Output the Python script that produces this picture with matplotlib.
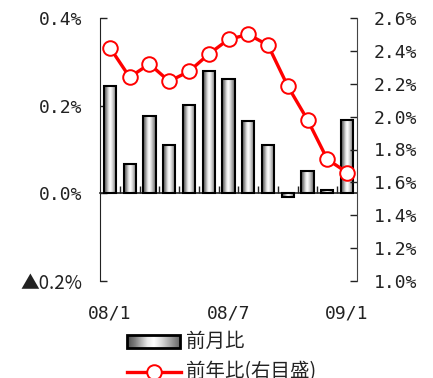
import numpy as np
import matplotlib
matplotlib.use("Agg")
import matplotlib.pyplot as plt
from matplotlib.colors import LinearSegmentedColormap
from matplotlib.lines import Line2D
from matplotlib.patches import Rectangle

plt.rcParams['font.family'] = ['Noto Sans CJK JP', 'DejaVu Sans']
NUM_FONT = ['DejaVu Sans Mono', 'Noto Sans CJK JP']

# Monthly data, Jan 2008 - Jan 2009
months = ["08/1", "08/2", "08/3", "08/4", "08/5", "08/6", "08/7",
          "08/8", "08/9", "08/10", "08/11", "08/12", "09/1"]
mom = [0.244, 0.068, 0.177, 0.110, 0.201, 0.279, 0.261,
       0.164, 0.110, -0.008, 0.051, 0.008, 0.168]          # 前月比 (%)
yoy = [2.42, 2.24, 2.32, 2.215, 2.275, 2.38, 2.47,
       2.50, 2.435, 2.185, 1.98, 1.74, 1.66]               # 前年比 (%)
shown_months = ["08/1", "08/7", "09/1"]
left_ticks = [-0.2, 0.0, 0.2, 0.4]
left_labels = ["▲0.2%", "0.0%", "0.2%", "0.4%"]
right_ticks = [1.0, 1.2, 1.4, 1.6, 1.8, 2.0, 2.2, 2.4, 2.6]
right_labels = ["1.0%", "1.2%", "1.4%", "1.6%", "1.8%", "2.0%", "2.2%", "2.4%", "2.6%"]
legend_labels = ["前月比", "前年比(右目盛)"]

W, H = 433, 378
fig = plt.figure(figsize=(W / 100, H / 100), dpi=100)
ax = fig.add_axes([100 / W, 1 - 281 / H, 257 / W, 263 / H])

# cylinder-like shading across each bar
shade = LinearSegmentedColormap.from_list(
    "cyl", [(0.0, (0.30,) * 3), (0.15, (0.50,) * 3), (0.38, (0.92,) * 3),
            (0.50, (1.0,) * 3), (0.65, (0.85,) * 3), (0.85, (0.58,) * 3),
            (1.0, (0.38,) * 3)])
grad = np.linspace(0, 1, 256).reshape(1, -1)

x = np.arange(len(months))
bars = ax.bar(x, mom, width=0.62, facecolor="none", edgecolor="black",
              linewidth=1.5, zorder=3)
for b in bars:
    x0, w = b.get_x(), b.get_width()
    y0, h = b.get_y(), b.get_height()
    ax.imshow(grad, cmap=shade, aspect="auto", zorder=2,
              extent=(x0, x0 + w, min(y0, y0 + h), max(y0, y0 + h)),
              interpolation="bilinear")

ax.set_xlim(-0.5, len(months) - 0.5)
ax.set_ylim(-0.2, 0.4)

# baseline at zero with small separators between months
ax.spines["bottom"].set_position(("data", 0))
ax.spines["bottom"].set_color("#222222")
ax.spines["bottom"].set_linewidth(1.2)
ax.spines["top"].set_visible(False)
ax.spines["right"].set_visible(False)
ax.spines["left"].set_color("#222222")
ax.set_xticks(x)
ax.tick_params(axis="x", which="major", length=0, labelbottom=False)
ax.set_xticks(x[:-1] + 0.5, minor=True)
ax.tick_params(axis="x", which="minor", direction="in", length=5,
               width=1.0, color="#222222")

ax.set_yticks(left_ticks)
ax.set_yticklabels(left_labels, family=NUM_FONT)
ax.tick_params(axis="y", direction="in", length=5, width=1.0, pad=13,
               labelsize=13, colors="#222222")
# the negative label carries a full-width triangle
for lbl in ax.get_yticklabels():
    if lbl.get_text().startswith("▲"):
        lbl.set_family(['Noto Sans CJK JP', 'DejaVu Sans'])
        lbl.set_fontsize(13.5)

# month labels along the bottom of the plot
sec = ax.secondary_xaxis("bottom")
sec.set_xticks([months.index(m) for m in shown_months])
sec.set_xticklabels(shown_months, family=NUM_FONT)
sec.tick_params(length=0, pad=17, labelsize=13, colors="#222222")
sec.spines["bottom"].set_visible(False)

# year-on-year line on the right scale
ax2 = ax.twinx()
ax2.set_ylim(1.0, 2.6)
ax2.plot(x, yoy, color="#ff0000", linewidth=2.4, marker="o",
         markersize=10.5, markerfacecolor="white", markeredgecolor="#ff0000",
         markeredgewidth=1.4, zorder=5)
for s in ("top", "left", "bottom"):
    ax2.spines[s].set_visible(False)
ax2.spines["right"].set_color("#444444")
ax2.set_yticks(right_ticks)
ax2.set_yticklabels(right_labels, family=NUM_FONT)
ax2.tick_params(axis="y", direction="in", length=5, width=1.0, pad=12,
                labelsize=13, colors="#222222")

# legend below the chart
sw = fig.add_axes([127 / W, 1 - 348 / H, 53 / W, 13 / H])
sw.imshow(grad, cmap=shade, aspect="auto", extent=(0, 1, 0, 1),
          interpolation="bilinear")
sw.add_patch(Rectangle((0, 0), 1, 1, fill=False, edgecolor="black",
                       linewidth=2.0, transform=sw.transAxes, clip_on=False))
sw.set_axis_off()
fig.text(186 / W, 1 - 341.5 / H, legend_labels[0], fontsize=14,
         va="center", ha="left", color="#222222")
fig.add_artist(Line2D([127 / W, 181 / W], [1 - 372 / H] * 2,
                      transform=fig.transFigure, color="#ff0000",
                      linewidth=2.4))
fig.add_artist(Line2D([154 / W], [1 - 372 / H], transform=fig.transFigure,
                      marker="o", markersize=10.5, markerfacecolor="white",
                      markeredgecolor="#ff0000", markeredgewidth=1.4,
                      linestyle="none"))
fig.text(186 / W, 1 - 372 / H, legend_labels[1], fontsize=14,
         va="center", ha="left", color="#222222")

fig.savefig("out.png", dpi=100)
